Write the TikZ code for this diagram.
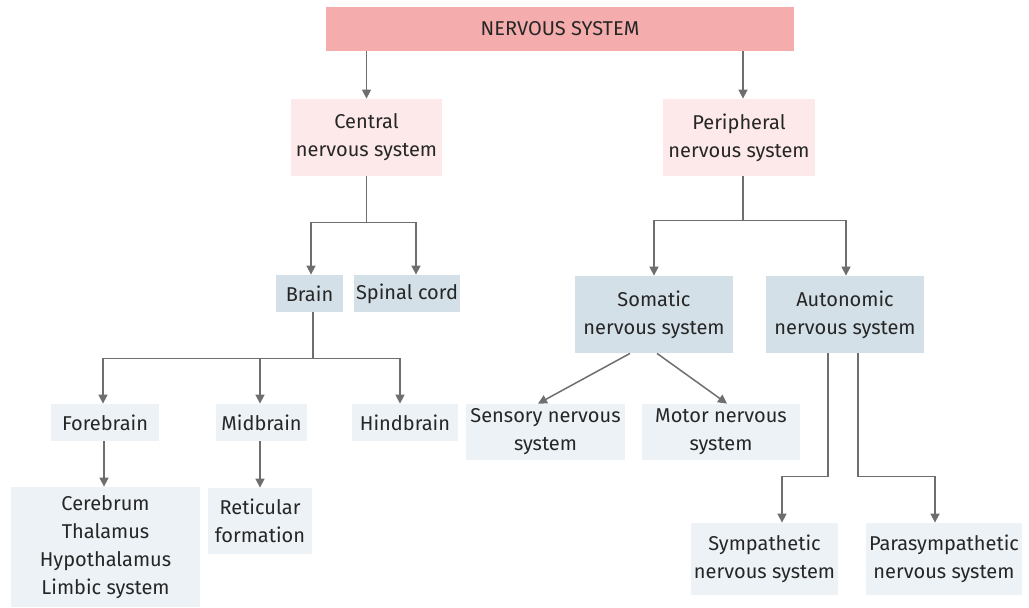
\documentclass[tikz,border=0pt]{standalone}
\usepackage{fontspec}
\setmainfont{Fira Sans}
\usetikzlibrary{arrows.meta}
\definecolor{nsred}{HTML}{F4ACAC}
\definecolor{nspink}{HTML}{FDE9EA}
\definecolor{nsblue}{HTML}{D3E0E8}
\definecolor{nslight}{HTML}{ECF2F6}
\definecolor{nsline}{HTML}{6E6E6E}
\definecolor{nstext}{HTML}{262626}
\tikzset{
  box/.style={inner sep=0pt, align=center, text=nstext,
    font=\fontsize{10}{14}\selectfont},
  boxsize/.style 2 args={minimum width=#1*0.5pt, minimum height=#2*0.5pt},
  topbox/.style={box, fill=nsred},
  pinkbox/.style={box, fill=nspink},
  bluebox/.style={box, fill=nsblue},
  leafbox/.style={box, fill=nslight},
  arr/.style={draw=nsline, line width=0.75pt,
    -{Triangle[length=4.5pt,width=4.5pt]}, fill=none},
  link/.style={draw=nsline, line width=0.75pt}
}
\begin{document}
\begin{tikzpicture}[x=0.5pt, y=-0.5pt]
  \useasboundingbox (0,0) rectangle (1029,607);
  % top level
  \node[topbox, boxsize={468}{44}] (ns) at (560,29) {NERVOUS SYSTEM};
  \node[pinkbox, boxsize={151}{77}] (cns) at (366.5,137.5) {Central\\nervous system};
  \node[pinkbox, boxsize={152}{77}] (pns) at (739,137.5) {Peripheral\\nervous system};
  % central side
  \node[bluebox, boxsize={67}{37}] (brain) at (309.5,293.5) {Brain};
  \node[bluebox, boxsize={106}{37}] (spinal) at (407,293.5) {Spinal cord};
  \node[leafbox, boxsize={108}{37}] (fore) at (105,422.5) {Forebrain};
  \node[leafbox, boxsize={91}{37}] (mid) at (261.5,422.5) {Midbrain};
  \node[leafbox, boxsize={106}{37}] (hind) at (405,422.5) {Hindbrain};
  \node[leafbox, boxsize={189}{120}] (cer) at (105.5,547)
    {Cerebrum\\Thalamus\\Hypothalamus\\Limbic system};
  \node[leafbox, boxsize={104}{66}] (ret) at (260,521) {Reticular\\formation};
  % peripheral side
  \node[bluebox, boxsize={158}{77}] (som) at (654,314.5) {Somatic\\nervous system};
  \node[bluebox, boxsize={158}{77}] (aut) at (845,314.5) {Autonomic\\nervous system};
  \node[leafbox, boxsize={159}{56}] (sens) at (545.5,432) {Sensory nervous\\system};
  \node[leafbox, boxsize={158}{56}] (mot) at (721,432) {Motor nervous\\system};
  \node[leafbox, boxsize={147}{72}] (sym) at (764.5,559) {Sympathetic\\nervous system};
  \node[leafbox, boxsize={156}{72}] (para) at (944,559) {Parasympathetic\\nervous system};

  % connectors
  \draw[arr] (ns.south -| cns) -- (cns.north);
  \draw[arr] ([xshift=2pt]ns.south -| pns) -- ([xshift=2pt]pns.north);

  \draw[link] (cns.south) -- ++(0,46) coordinate (cj);
  \draw[arr] (cj) -| ([xshift=0.75pt]brain.north);
  \draw[arr] (cj) -| ([xshift=4.5pt]spinal.north);

  \draw[link] ([xshift=1.75pt]brain.south) -- ++(0,46) coordinate (bj);
  \draw[arr] (bj) -| ([xshift=-1pt]fore.north);
  \draw[arr] (bj) -| ([xshift=-0.75pt]mid.north);
  \draw[arr] (bj) -| ([xshift=-2.5pt]hind.north);
  \draw[arr] ([xshift=-0.5pt]fore.south) -- ([xshift=-0.5pt]fore.south |- cer.north);
  \draw[arr] ([xshift=-0.75pt]mid.south) -- ([xshift=-0.75pt]mid.south |- ret.north);

  \draw[link] ([xshift=2pt]pns.south) -- ++(0,44) coordinate (pj);
  \draw[arr] (pj) -| (som.north);
  \draw[arr] (pj) -| ([xshift=0.5pt]aut.north);

  \draw[arr] ([xshift=-12pt]som.south) -- ([xshift=-3.75pt]sens.north);
  \draw[arr] ([xshift=1.5pt]som.south) -- ([xshift=3pt]mot.north);

  \draw[arr] ([xshift=-8.5pt]aut.south) -- ++(0,123) -| ([xshift=8.75pt]sym.north);
  \draw[arr] ([xshift=6.5pt]aut.south) -- ++(0,123) -| ([xshift=-4.5pt]para.north);
\end{tikzpicture}
\end{document}
